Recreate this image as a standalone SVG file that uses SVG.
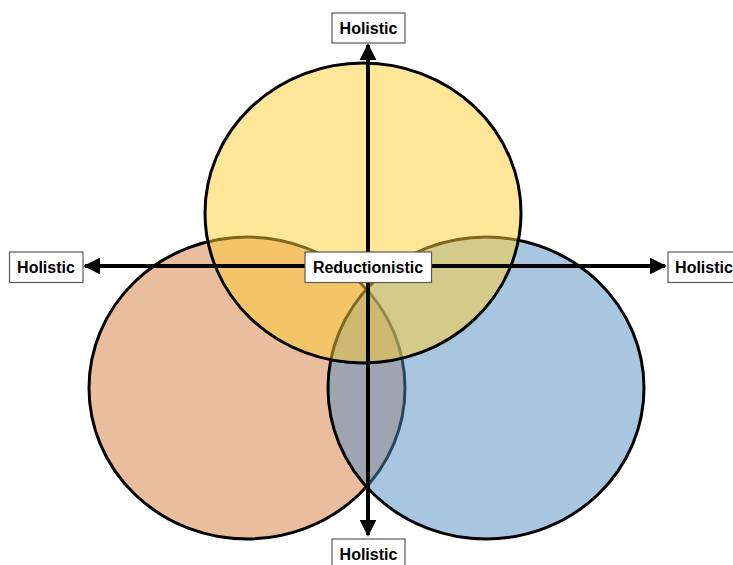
<svg xmlns="http://www.w3.org/2000/svg" width="733" height="565" viewBox="0 0 733 565">
  <style>
    .set { stroke: #000; stroke-width: 3; fill-opacity: 0.5; }
    .axis { stroke: #000; stroke-width: 4; fill: none; }
    .box { fill: #fff; stroke: #595959; stroke-width: 1.2; }
    .lbl { font-family: "Liberation Sans", Arial, sans-serif; font-weight: bold; font-size: 16px; fill: #000; text-anchor: middle; }
  </style>
  <defs>
    <marker id="head" viewBox="0 0 10 10" refX="9" refY="5" markerWidth="4.2" markerHeight="4.2" orient="auto-start-reverse" markerUnits="strokeWidth">
      <path d="M0,0 L10,5 L0,10 Z" fill="#000"/>
    </marker>
  </defs>

  <rect width="733" height="565" fill="#fff"/>

  <!-- overlapping sets -->
  <g id="set-left">
    <ellipse class="set" cx="247" cy="388" rx="158" ry="151" fill="#D37B3B"/>
  </g>
  <g id="set-right">
    <ellipse class="set" cx="486" cy="388" rx="158" ry="151" fill="#538DC3"/>
  </g>
  <g id="set-top">
    <ellipse class="set" cx="363" cy="213" rx="158" ry="150" fill="#FFCD33"/>
  </g>

  <!-- axes -->
  <g id="connectors">
    <line class="axis" x1="368" y1="535" x2="368" y2="45" marker-start="url(#head)" marker-end="url(#head)"/>
    <line class="axis" x1="85" y1="266" x2="665" y2="266" marker-start="url(#head)" marker-end="url(#head)"/>
  </g>

  <g id="label-top">
    <rect class="box" x="332" y="13" width="73" height="30"/>
    <text class="lbl" x="368.5" y="34">Holistic</text>
  </g>
  <g id="label-left">
    <rect class="box" x="9.5" y="252" width="73.5" height="30.5"/>
    <text class="lbl" x="46" y="272.5">Holistic</text>
  </g>
  <g id="label-right">
    <rect class="box" x="668" y="252" width="73" height="30.5"/>
    <text class="lbl" x="704" y="272.5">Holistic</text>
  </g>
  <g id="label-bottom">
    <rect class="box" x="332" y="539" width="73" height="30"/>
    <text class="lbl" x="368.5" y="560">Holistic</text>
  </g>
  <g id="label-center">
    <rect class="box" x="305" y="252" width="126.5" height="30.5"/>
    <text class="lbl" x="368" y="272.5">Reductionistic</text>
  </g>
</svg>
